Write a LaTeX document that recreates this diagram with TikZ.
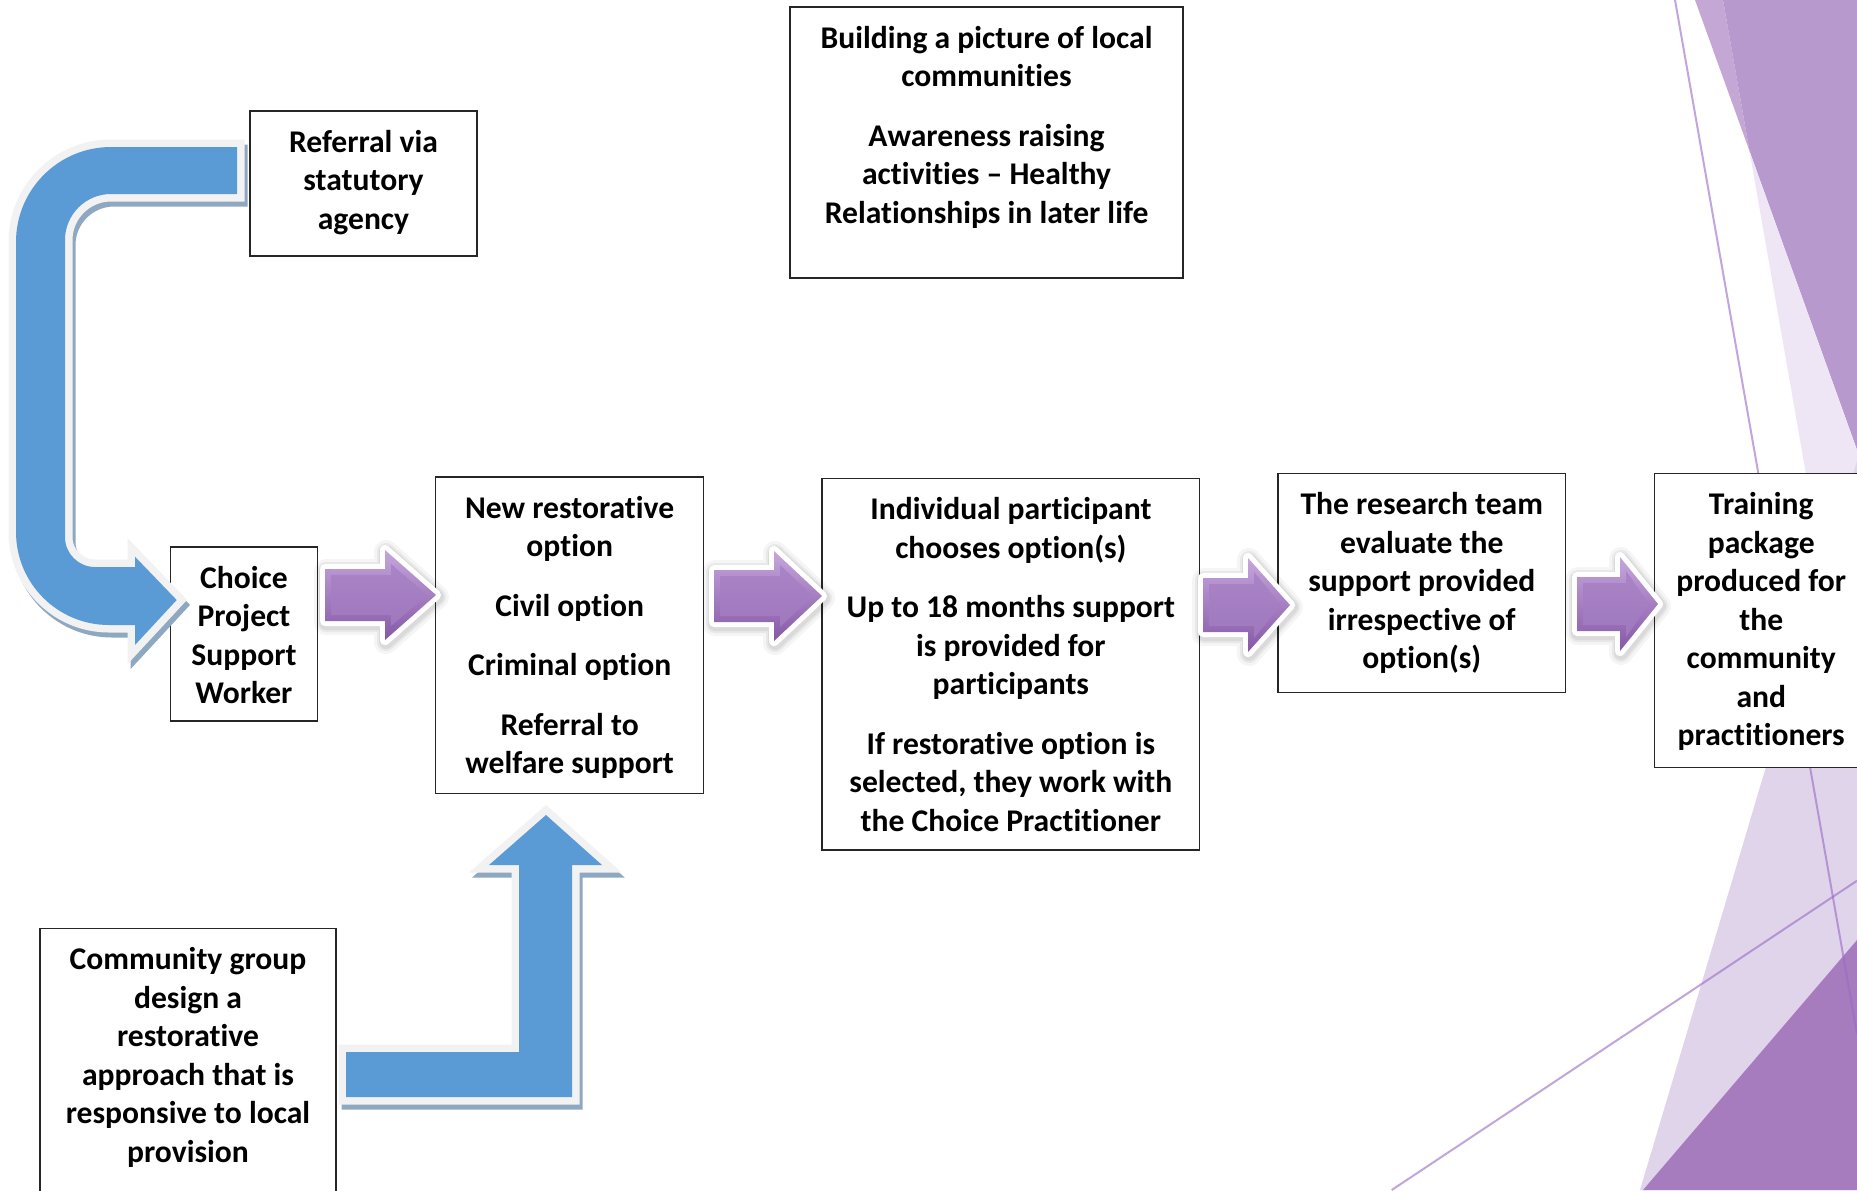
\documentclass[tikz,border=0pt]{standalone}
\usepackage{fontspec}
\setmainfont[Ligatures={NoCommon,NoRequired,NoContextual}]{Carlito}
\usetikzlibrary{fit,calc}
\definecolor{bBlue}{HTML}{5B9BD5}
\definecolor{bWhite}{HTML}{F2F2F2}
\definecolor{bShadow}{HTML}{8EA8C2}
\definecolor{pFaceT}{HTML}{A984C6}
\definecolor{pFaceB}{HTML}{9F78BD}
\definecolor{pTop}{HTML}{C6A6DC}
\definecolor{pBot}{HTML}{8558A6}
\definecolor{bgStrip}{HTML}{C5A7D6}
\definecolor{bgMed}{HTML}{B899CD}
\definecolor{bgVLight}{HTML}{EEE6F4}
\definecolor{bgLight}{HTML}{E0D4EB}
\definecolor{bgDark}{HTML}{A67CBF}
\definecolor{bgLine}{HTML}{9A6AC4}
\begin{document}
\begin{tikzpicture}[x=0.5pt,y=-0.5pt,
  box/.style={draw=black!85, line width=0.6pt, fill=white, inner sep=0pt, rectangle},
  txt/.style={align=center, inner sep=0pt, anchor=north,
    font=\fontsize{15.8}{19.25}\selectfont\bfseries, execute at begin node=\strut},
  bgline/.style={draw=bgLine, line width=1pt, draw opacity=0.6},
  pa/.style n args={6}{insert path={(#1,#4-#5) -- (#2,#4-#5) -- (#2,#4-#6) -- (#3,#4) -- (#2,#4+#6) -- (#2,#4+#5) -- (#1,#4+#5) -- cycle}},
  pain/.style n args={6}{insert path={(#1+6,#4-#5+6) -- (#2+6,#4-#5+6) -- (#2+6,#4-#6+14) -- (#3-9,#4) -- (#2+6,#4+#6-14) -- (#2+6,#4+#5-6) -- (#1+6,#4+#5-6) -- cycle}},
  pshadow/.style={draw=black, line join=round, yshift=-1pt, xshift=0.5pt},
  pglow/.style={draw=white, fill=white, line width=5pt, line join=round},
  prim/.style={top color=pTop, bottom color=pBot},
  pface/.style={top color=pFaceT, bottom color=pFaceB},
  uturn/.style={insert path={(237,147) -- (111,147) .. controls (58.5,147) and (16,189.5) .. (16,242)
      -- (16,532) .. controls (16,583.4) and (57.6,625) .. (109,625)
      -- (135,625) -- (135,645) -- (176.7,600) -- (135,556.7) -- (135,567)
      -- (95,567) .. controls (78.4,567) and (65,553.6) .. (65,537)
      -- (65,240) .. controls (65,214.6) and (85.6,194) .. (111,194)
      -- (237,194) -- cycle}},
  uparr/.style={insert path={(346,1052) -- (519,1052) -- (519,865) -- (489,865) -- (546,815)
      -- (602,865) -- (572,865) -- (572,1097) -- (346,1097) -- cycle}},
  bshadow/.style={draw=bShadow, fill=bShadow, line width=7.5pt, line join=miter, xshift=1.5pt, yshift=-2.5pt},
  bwhite/.style={draw=bWhite, fill=bWhite, line width=7.5pt, line join=miter},
  bfill/.style={fill=bBlue},
]
\useasboundingbox (0,0) rectangle (1857,1190);
\clip (0,0) rectangle (1857,1190);
\fill[white] (0,0) rectangle (1857,1190);

% background facets
\fill[bgStrip] (1695,0) -- (1723,0) -- (1749.5,151) -- cycle;
\fill[bgMed] (1723,0) -- (1857,0) -- (1857,450) -- (1749.5,151) -- cycle;
\fill[bgVLight] (1749.5,151) -- (1857,450) -- (1857,766) -- cycle;
\fill[bgLight] (1640,1190) -- (1857,461) -- (1857,1190) -- cycle;
\fill[bgDark] (1643,1190) -- (1857,940) -- (1857,1190) -- cycle;
\draw[bgline] (1675,0) -- (1857,1034);
\draw[bgline] (1391.7,1190) -- (1857,880.7);

% boxes
\node[box, fit={(790,7) (1183,278)}] (top) {};
\node[box, fit={(250,111) (477,256)}] (ref) {};
\node[box, fit={(170.5,547) (317.4,721)}] (choice) {};
\node[box, fit={(435.8,477) (703.5,793.5)}] (opts) {};
\node[box, fit={(822,478.5) (1199.7,850)}] (indiv) {};
\node[box, fit={(1278,473.7) (1565.6,692.8)}] (research) {};
\node[box, fit={(1654.5,473.7) (1868,767.4)}] (train) {};
\node[box, fit={(40,928.5) (336,1210)}] (comm) {};

% texts
\node[txt] (topt) at ([yshift=-9.6pt]top.north) {Building a picture of local\\communities\\[10.5pt]Awareness raising\\activities -- Healthy\\Relationships in later life};
\node[txt] (reft) at ([yshift=-9.6pt]ref.north) {Referral via\\statutory\\agency};
\node[txt] (choicet) at ([yshift=-9.6pt]choice.north) {Choice\\Project\\Support\\Worker};
\node[txt] (optst) at ([yshift=-9.6pt]opts.north) {New restorative\\option\\[10.5pt]Civil option\\[10.5pt]Criminal option\\[10.5pt]Referral to\\welfare support};
\node[txt] (indivt) at ([yshift=-9.6pt]indiv.north) {Individual participant\\chooses option(s)\\[10.5pt]Up to 18 months support\\is provided for\\participants\\[10.5pt]If restorative option is\\selected, they work with\\the Choice Practitioner};
\node[txt] (researcht) at ([yshift=-9.6pt]research.north) {The research team\\evaluate the\\support provided\\irrespective of\\option(s)};
\node[txt] (traint) at ([yshift=-9.6pt]train.north) {Training\\package\\produced for\\the\\community\\and\\practitioners};
\node[txt] (commt) at ([yshift=-9.6pt]comm.north) {Community group\\design a\\restorative\\approach that is\\responsive to local\\provision};

% purple block arrows
\foreach \a/\b/\c/\d/\e/\f in {325/385/436/595/26/45, 714/774/822/596/26/45, 1203/1248/1290/605/27/47, 1577/1620/1658/604/27/47} {
  \path[pshadow, draw opacity=0.04, line width=12pt, pa={\a}{\b}{\c}{\d}{\e}{\f}];
  \path[pshadow, draw opacity=0.05, line width=9pt, pa={\a}{\b}{\c}{\d}{\e}{\f}];
  \path[pshadow, draw opacity=0.06, line width=7pt, pa={\a}{\b}{\c}{\d}{\e}{\f}];
  \path[pglow, pa={\a}{\b}{\c}{\d}{\e}{\f}];
  \path[prim, pa={\a}{\b}{\c}{\d}{\e}{\f}];
  \path[pface, pain={\a}{\b}{\c}{\d}{\e}{\f}];
}

% blue arrows
\path[bshadow, uturn];
\path[bwhite, uturn];
\path[bfill, uturn];
\path[bshadow, uparr];
\path[bwhite, uparr];
\path[bfill, uparr];
\end{tikzpicture}
\end{document}
